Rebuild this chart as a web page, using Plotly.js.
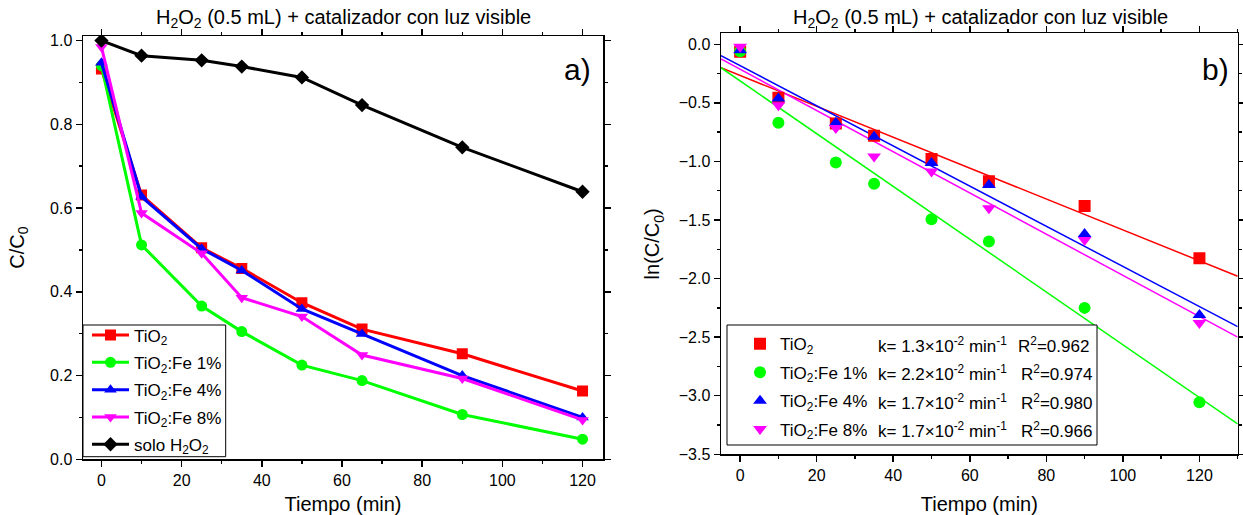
<!DOCTYPE html>
<html>
<head>
<meta charset="utf-8">
<script src="https://cdn.plot.ly/plotly-3.0.1.min.js"></script>
<style>html,body{margin:0;padding:0;background:#fff;}#chart{width:1243px;height:515px;}</style>
</head>
<body>
<div id="chart"></div>
<script>
// ---- data ----
const time = [0, 10, 25, 35, 50, 65, 90, 120];
// panel a) C/C0
const cTiO2 = [0.932, 0.631, 0.505, 0.456, 0.374, 0.311, 0.252, 0.163];
const cFe1  = [0.940, 0.512, 0.366, 0.305, 0.225, 0.188, 0.107, 0.048];
const cFe4  = [0.947, 0.627, 0.503, 0.451, 0.359, 0.299, 0.200, 0.100];
const cFe8  = [0.985, 0.588, 0.492, 0.386, 0.341, 0.249, 0.193, 0.094];
const cH2O2 = [1.000, 0.964, 0.953, 0.938, 0.912, 0.846, 0.745, 0.639];
// panel b) ln(C/C0)
const lnTiO2 = [-0.063, -0.457, -0.677, -0.780, -0.980, -1.169, -1.380, -1.826];
const lnFe1  = [-0.060, -0.670, -1.009, -1.190, -1.494, -1.683, -2.250, -3.056];
const lnFe4  = [-0.050, -0.463, -0.670, -0.790, -1.014, -1.200, -1.620, -2.310];
const lnFe8  = [-0.020, -0.520, -0.714, -0.957, -1.086, -1.400, -1.670, -2.380];
// linear fits (end points)
const fitX     = [-5, 130];
const fitTiO2  = [-0.200, -1.980];
const fitFe1   = [-0.200, -3.240];
const fitFe4   = [-0.097, -2.410];
const fitFe8   = [-0.125, -2.500];
// labels
const names = ['TiO<sub>2</sub>', 'TiO<sub>2</sub>:Fe 1%', 'TiO<sub>2</sub>:Fe 4%', 'TiO<sub>2</sub>:Fe 8%', 'solo H<sub>2</sub>O<sub>2</sub>'];
const kLabels = ['k= 1.3\u00d710<sup>-2</sup> min<sup>-1</sup>', 'k= 2.2\u00d710<sup>-2</sup> min<sup>-1</sup>', 'k= 1.7\u00d710<sup>-2</sup> min<sup>-1</sup>', 'k= 1.7\u00d710<sup>-2</sup> min<sup>-1</sup>'];
const r2Labels = ['R<sup>2</sup>=0.962', 'R<sup>2</sup>=0.974', 'R<sup>2</sup>=0.980', 'R<sup>2</sup>=0.966'];
const titleText = 'H<sub>2</sub>O<sub>2</sub> (0.5 mL) + catalizador con luz visible';

// ---- styles ----
const colors = ['#ff0000', '#00ff00', '#0000ff', '#ff00ff', '#000000'];
const symbolsA = ['square', 'circle', 'triangle-up', 'triangle-down', 'diamond'];
const FONT = 'Arial, "Liberation Sans", sans-serif';
const W = 1243, H = 515;
const px = v => v / W, py = v => 1 - v / H;

const seriesA = [cTiO2, cFe1, cFe4, cFe8, cH2O2];
const seriesB = [lnTiO2, lnFe1, lnFe4, lnFe8];
const fits = [fitTiO2, fitFe1, fitFe4, fitFe8];

const traces = [];
seriesA.forEach((s, i) => {
  traces.push({
    x: time, y: s, type: 'scatter', mode: 'lines+markers', name: names[i],
    xaxis: 'x', yaxis: 'y', legend: 'legend', legendgroup: 'a' + i,
    line: {color: colors[i], width: 3},
    marker: {symbol: symbolsA[i], size: 11, color: colors[i]}
  });
});
fits.forEach((f, i) => {
  traces.push({
    x: fitX, y: f, type: 'scatter', mode: 'lines', showlegend: false,
    xaxis: 'x2', yaxis: 'y2', line: {color: colors[i], width: 1.5}, hoverinfo: 'skip'
  });
});
seriesB.forEach((s, i) => {
  traces.push({
    x: time, y: s, type: 'scatter', mode: 'markers', name: names[i],
    xaxis: 'x2', yaxis: 'y2', legend: 'legend2', legendgroup: 'b' + i,
    marker: {symbol: symbolsA[i], size: 12, color: colors[i]}
  });
});

function axisBase(extra) {
  return Object.assign({
    showline: true, linecolor: '#000', linewidth: 1.5, mirror: 'ticks',
    ticks: 'outside', ticklen: 6, tickwidth: 1.5, tickcolor: '#000',
    showgrid: false, zeroline: false,
    tickfont: {family: FONT, size: 16, color: '#000'}
  }, extra);
}

function note(text, x, y, size, xanchor) {
  return {text: text, x: px(x), y: py(y), xref: 'paper', yref: 'paper', xanchor: xanchor || 'center', yanchor: 'middle',
    showarrow: false, font: {family: FONT, size: size, color: '#000'}};
}
const annotations = [
  note(titleText, 343, 18, 20),
  note(titleText, 980, 18, 20),
  note('a)', 577, 70, 30),
  note('b)', 1215, 70, 30)
];
const rowY = [345, 373, 401.5, 430];
kLabels.forEach((t, i) => {
  annotations.push(note(t, 876, rowY[i], 17, 'left'));
  annotations.push(note(r2Labels[i], i === 0 ? 1016 : 1019, rowY[i], 17, 'left'));
});

const boxLine = {color: '#000', width: 1};
const shapes = [
  {type: 'rect', xref: 'paper', yref: 'paper', x0: px(83), x1: px(225.7), y0: py(456.7), y1: py(325), fillcolor: '#fff', line: boxLine, layer: 'above'},
  {type: 'rect', xref: 'paper', yref: 'paper', x0: px(727), x1: px(1097), y0: py(445), y1: py(325), fillcolor: '#fff', line: boxLine, layer: 'above'}
];

const layout = {
  width: W, height: H,
  margin: {l: 0, r: 0, t: 0, b: 0},
  paper_bgcolor: '#fff', plot_bgcolor: '#fff',
  font: {family: FONT, color: '#000'},
  xaxis: axisBase({domain: [px(83), px(603)], range: [-4.6, 125.1], dtick: 20, tick0: 0,
    minor: {dtick: 10, ticks: 'outside', ticklen: 3, tickwidth: 1.5, tickcolor: '#000'},
    title: {text: 'Tiempo (min)', font: {family: FONT, size: 20, color: '#000'}, standoff: 14}, anchor: 'y'}),
  yaxis: axisBase({domain: [1 - 459.3 / H, 1 - 36 / H], range: [0, 1.011], dtick: 0.2, tick0: 0, tickformat: '.1f',
    minor: {dtick: 0.1, ticks: 'outside', ticklen: 3, tickwidth: 1.5, tickcolor: '#000'},
    title: {text: 'C/C<sub>0</sub>', font: {family: FONT, size: 20, color: '#000'}, standoff: 20}, anchor: 'x'}),
  xaxis2: axisBase({domain: [px(721), px(1237.7)], range: [-5, 130], dtick: 20, tick0: 0,
    minor: {dtick: 10, ticks: 'outside', ticklen: 3, tickwidth: 1.5, tickcolor: '#000'},
    title: {text: 'Tiempo (min)', font: {family: FONT, size: 20, color: '#000'}, standoff: 14}, anchor: 'y2'}),
  yaxis2: axisBase({domain: [1 - 454.3 / H, 1 - 33.3 / H], range: [-3.5, 0.094], dtick: 0.5, tick0: 0, tickformat: '.1f',
    minor: {dtick: 0.25, ticks: 'outside', ticklen: 3, tickwidth: 1.5, tickcolor: '#000'},
    title: {text: 'ln(C/C<sub>0</sub>)', font: {family: FONT, size: 20, color: '#000'}, standoff: 13}, anchor: 'x2'}),
  legend: {x: px(87), y: py(317.5), xanchor: 'left', yanchor: 'top', bgcolor: 'rgba(0,0,0,0)', borderwidth: 0,
    font: {family: FONT, size: 17, color: '#000'}, itemwidth: 37, tracegroupgap: 2.2, traceorder: 'grouped'},
  legend2: {x: px(740), y: py(326.3), xanchor: 'left', yanchor: 'top', bgcolor: 'rgba(0,0,0,0)', borderwidth: 0,
    font: {family: FONT, size: 17, color: '#000'}, itemwidth: 30, tracegroupgap: 3.3, traceorder: 'grouped'},
  annotations: annotations,
  shapes: shapes,
  showlegend: true
};

Plotly.newPlot('chart', traces, layout, {displayModeBar: false, staticPlot: true});
</script>
</body>
</html>
